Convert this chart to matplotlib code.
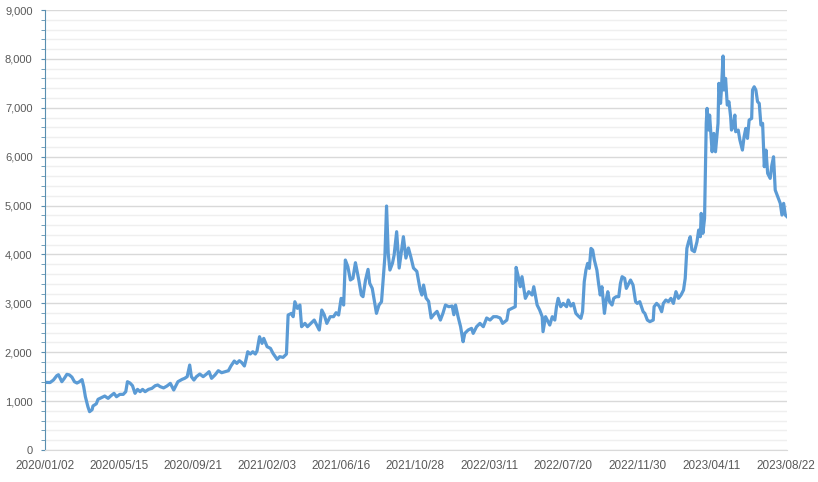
import numpy as np
import matplotlib.pyplot as plt
from matplotlib.ticker import MultipleLocator, FuncFormatter

# trading-day index (0 = 2020/01/02) and price
days = [0, 6, 10, 14, 16, 18, 20, 23, 26, 29, 32, 35, 38, 41, 44, 46, 48, 51, 53, 56,
        57, 61, 63, 67, 71, 75, 78, 82, 85, 89, 93, 96, 98, 101, 104, 107, 110, 113, 116, 119,
        123, 127, 131, 134, 137, 141, 145, 149, 153, 156, 158, 163, 166, 169, 172, 174, 177, 180, 184, 188,
        192, 195, 198, 202, 206, 210, 214, 218, 221, 225, 228, 231, 234, 237, 239, 241, 244, 247, 250, 252,
        255, 258, 260, 264, 268, 271, 276, 279, 283, 287, 289, 293, 295, 297, 300, 303, 305, 309, 312, 316,
        320, 323, 326, 329, 332, 335, 339, 343, 346, 349, 352, 355, 357, 360, 363, 366, 369, 373, 376, 378,
        381, 384, 386, 389, 392, 394, 397, 400, 402, 404, 406, 408, 410, 413, 415, 418, 421, 426, 429, 432,
        435, 438, 442, 446, 448, 450, 453, 456, 459, 462, 466, 470, 473, 476, 480, 484, 486, 488, 491, 494,
        497, 499, 503, 507, 509, 513, 517, 521, 525, 529, 533, 537, 541, 544, 549, 551, 555, 559, 560, 563,
        565, 567, 571, 575, 579, 581, 585, 588, 591, 592, 595, 597, 600, 603, 606, 608, 610, 613, 616, 620,
        622, 625, 628, 631, 634, 637, 639, 641, 643, 645, 647, 649, 651, 653, 656, 658, 660, 662, 665, 667,
        669, 671, 674, 676, 679, 682, 684, 686, 689, 691, 694, 696, 699, 702, 704, 707, 711, 713, 716, 719,
        723, 724, 727, 730, 733, 735, 738, 741, 744, 747, 750, 753, 756, 759, 761, 763, 765, 767, 769, 772,
        775, 777, 779, 780, 782, 784, 786, 787, 789, 790, 792, 793, 795, 797, 800, 801, 803, 804, 806, 807,
        809, 811, 813, 815, 816, 818, 820, 821, 824, 826, 829, 831, 833, 835, 837, 840, 841, 843, 845, 847,
        849, 851, 853, 855, 857, 859, 862, 864, 866, 868, 871, 874, 876, 878, 880, 882]

price = [1384, 1380, 1431, 1520, 1540, 1470, 1397, 1466, 1548, 1536, 1490, 1397, 1370, 1397, 1440, 1295, 1090, 886, 784, 825,
         900, 945, 1036, 1070, 1104, 1056, 1104, 1159, 1090, 1138, 1138, 1193, 1397, 1370, 1315, 1159, 1240, 1193, 1240, 1193,
         1240, 1260, 1315, 1330, 1295, 1270, 1309, 1363, 1227, 1329, 1397, 1445, 1466, 1500, 1738, 1500, 1431, 1500, 1554, 1500,
         1554, 1602, 1466, 1534, 1622, 1581, 1602, 1622, 1718, 1820, 1772, 1827, 1786, 1718, 1854, 2010, 1963, 2010, 1963, 2024,
         2317, 2181, 2283, 2113, 2079, 1977, 1854, 1909, 1895, 1963, 2761, 2795, 2727, 3033, 2897, 2965, 2522, 2590, 2522, 2590,
         2658, 2556, 2454, 2863, 2761, 2590, 2727, 2727, 2808, 2761, 3102, 2965, 3886, 3749, 3477, 3511, 3831, 3477, 3170, 3136,
         3477, 3695, 3409, 3306, 3000, 2795, 2965, 3033, 3490, 3953, 4990, 4022, 3681, 3818, 3988, 4465, 3722, 4363, 3926, 4133,
         3940, 3722, 3654, 3272, 3170, 3374, 3108, 3040, 2700, 2767, 2836, 2658, 2795, 2965, 2931, 2945, 2767, 2965, 2727, 2522,
         2215, 2386, 2454, 2488, 2386, 2522, 2590, 2522, 2700, 2658, 2727, 2727, 2700, 2590, 2658, 2863, 2897, 2931, 3736, 3511,
         3340, 3545, 3102, 3238, 3170, 3340, 2965, 2863, 2727, 2420, 2727, 2658, 2556, 2727, 2658, 2931, 3102, 2931, 2999, 2931,
         3068, 2945, 2999, 2795, 2740, 2693, 2829, 3442, 3681, 3817, 3715, 4124, 4090, 3886, 3681, 3409, 3170, 3340, 2795, 3068,
         3238, 3034, 2965, 3102, 3136, 3136, 3409, 3545, 3511, 3306, 3409, 3477, 3374, 3034, 2999, 3034, 2829, 2795, 2658, 2625,
         2658, 2931, 2999, 2945, 2829, 2999, 3068, 3034, 3102, 2999, 3238, 3102, 3170, 3272, 3511, 4124, 4260, 4363, 4090, 4056,
         4260, 4499, 4363, 4840, 4431, 4738, 6681, 6988, 6544, 6851, 6340, 6100, 6476, 6100, 6681, 7500, 7090, 7363, 8058, 7363,
         7601, 7056, 7124, 6817, 6544, 6612, 6851, 6510, 6544, 6340, 6135, 6408, 6578, 6374, 6749, 6783, 7362, 7430, 7362, 7124,
         7090, 6647, 6681, 5794, 6135, 5658, 5556, 5828, 5998, 5317, 5180, 5045, 4806, 5045, 4806, 4772]

tick_labels = ["2020/01/02", "2020/05/15", "2020/09/21", "2021/02/03", "2021/06/16", "2021/10/28",
               "2022/03/11", "2022/07/20", "2022/11/30", "2023/04/11", "2023/08/22"]
tick_step = 88

plt.rcParams['font.family'] = ['Liberation Sans', 'DejaVu Sans']

fig = plt.figure(figsize=(8.18, 4.82), dpi=100)
ax = fig.add_axes([45 / 818, 1 - 450 / 482, 742 / 818, 440 / 482])

ax.plot(days, price, color="#5b9bd5", linewidth=2.3, solid_joinstyle="round")

ax.set_xlim(0, days[-1])
ax.set_ylim(0, 9000)
ax.set_xticks(np.arange(len(tick_labels)) * tick_step)
ax.set_xticklabels(tick_labels)

ax.yaxis.set_major_locator(MultipleLocator(1000))
ax.yaxis.set_minor_locator(MultipleLocator(200))
ax.yaxis.set_major_formatter(FuncFormatter(lambda v, p: f"{int(v):,}"))
ax.grid(which="major", axis="y", color="#d9d9d9", linewidth=1)
ax.grid(which="minor", axis="y", color="#efefef", linewidth=1)
ax.set_axisbelow(True)

for s in ["top", "right"]:
    ax.spines[s].set_visible(False)
ax.spines["bottom"].set_color("#d9d9d9")
ax.spines["left"].set_color("#5a8fb0")

ax.tick_params(axis="x", length=0, pad=7, labelsize=8.5, labelcolor="#595959")
ax.tick_params(axis="y", which="major", length=3, color="#5a8fb0", pad=6,
               labelsize=8, labelcolor="#595959")
ax.tick_params(axis="y", which="minor", length=3, color="#5a8fb0")

fig.savefig("out.png", dpi=100)
